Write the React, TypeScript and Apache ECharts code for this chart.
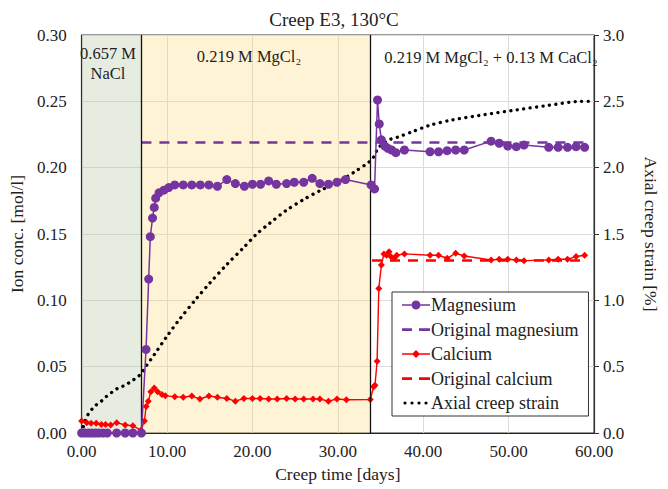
import React, { useEffect, useRef } from "react";
import * as echarts from "echarts";

const FONT = '"Liberation Serif", "Times New Roman", serif';

// Magnesium (purple circles)
const mgDays = [0, 0.4, 0.8, 1.2, 1.6, 2.0, 2.5, 3.0, 4.1, 5.1, 6.0, 7.0, 7.54, 7.85, 8.04, 8.3, 8.5, 8.67, 9.06, 9.63, 10.2, 10.9, 11.9, 12.9, 13.9, 14.9, 15.9, 17.0, 18.0, 19.06, 20.0, 20.95, 21.9, 22.8, 24.0, 24.9, 26.0, 27.0, 27.9, 28.9, 29.9, 30.9, 33.9, 34.3, 34.65, 34.85, 35.1, 35.5, 35.86, 36.3, 36.8, 37.8, 40.8, 41.8, 42.8, 43.8, 44.8, 47.95, 48.9, 49.9, 50.9, 51.8, 54.7, 55.8, 56.9, 57.9, 58.9];
const mgValues = [0, 0, 0, 0, 0, 0, 0, 0, 0, 0, 0, 0, 0.063, 0.116, 0.148, 0.162, 0.17, 0.177, 0.181, 0.183, 0.185, 0.187, 0.187, 0.187, 0.187, 0.187, 0.186, 0.191, 0.188, 0.186, 0.1875, 0.1875, 0.19, 0.1875, 0.188, 0.189, 0.189, 0.192, 0.188, 0.1875, 0.189, 0.191, 0.187, 0.184, 0.251, 0.233, 0.221, 0.2163, 0.2146, 0.2133, 0.2113, 0.2133, 0.212, 0.212, 0.2128, 0.2133, 0.2133, 0.22, 0.2184, 0.2163, 0.2158, 0.217, 0.2153, 0.2153, 0.2153, 0.2158, 0.2153];

// Calcium (red diamonds)
const caDays = [0, 0.6, 1.1, 1.7, 2.3, 2.8, 3.4, 4.1, 5.1, 6.0, 6.95, 7.35, 7.55, 7.8, 8.1, 8.5, 8.9, 9.4, 9.8, 10.9, 11.9, 12.9, 13.85, 14.9, 15.9, 17.0, 18.0, 19.0, 20.0, 20.9, 21.9, 22.9, 24.0, 25.0, 26.0, 27.1, 27.9, 28.9, 29.9, 31.0, 33.8, 34.2, 34.35, 34.6, 34.8, 35.1, 35.4, 35.7, 36.0, 36.2, 36.6, 36.9, 37.8, 40.8, 41.8, 42.8, 43.8, 44.8, 47.95, 48.9, 49.9, 50.9, 51.8, 54.7, 55.8, 56.9, 57.9, 58.9];
const caValues = [0.009, 0.0078, 0.0073, 0.0073, 0.0065, 0.0065, 0.006, 0.0078, 0.006, 0.0055, 0.002, 0.009, 0.02, 0.024, 0.031, 0.034, 0.031, 0.029, 0.028, 0.0274, 0.0269, 0.0279, 0.0256, 0.0279, 0.0269, 0.026, 0.024, 0.026, 0.026, 0.026, 0.0256, 0.0256, 0.026, 0.0256, 0.0256, 0.0256, 0.0256, 0.024, 0.0256, 0.0251, 0.0252, 0.0349, 0.036, 0.054, 0.109, 0.1266, 0.135, 0.134, 0.1367, 0.133, 0.1317, 0.134, 0.135, 0.134, 0.134, 0.1317, 0.1355, 0.1334, 0.1304, 0.131, 0.131, 0.1304, 0.1299, 0.1304, 0.131, 0.131, 0.133, 0.134];

// Original concentrations (dashed)
const origMgDays = [7.0, 59.0];
const origMgValues = [0.219, 0.219];
const origCaDays = [34.0, 59.0];
const origCaValues = [0.13, 0.13];

// Axial creep strain [%] (right axis, dotted)
const strainDays = [0, 0.3, 0.75, 1.5, 2.3, 2.8, 3.6, 4.3, 5.1, 5.8, 6.5, 7.0, 7.5, 8.5, 10, 11.5, 13.4, 15, 17, 19, 20.5, 22, 24, 26, 28, 30, 32, 33.6, 34.2, 34.7, 35.3, 36, 37, 38.7, 40.8, 43.4, 47.2, 50.9, 54.7, 58.5, 59.6];
const strainValues = [0, 0.07, 0.14, 0.2, 0.24, 0.27, 0.31, 0.34, 0.36, 0.39, 0.42, 0.45, 0.5, 0.59, 0.73, 0.86, 1.01, 1.13, 1.27, 1.4, 1.5, 1.58, 1.68, 1.76, 1.83, 1.89, 1.97, 2.04, 2.08, 2.146, 2.18, 2.21, 2.23, 2.27, 2.32, 2.36, 2.4, 2.435, 2.47, 2.5, 2.5];

// Solution phases (day boundaries)
const phaseBounds = [0, 7.0, 33.8];
const phaseLabels = ["0.657 M\nNaCl", "0.219 M MgCl\u2082", "0.219 M MgCl\u2082 + 0.13 M CaCl\u2082"];

const legendNames = ["Magnesium", "Original magnesium", "Calcium", "Original calcium", "Axial creep strain"];

// legend glyphs (28 x 14 boxes; tiny corner specks fix the bounding box)
const CORNERS = " M0,0 h0.01 v0.01 h-0.01 Z M27.99,13.99 h0.01 v0.01 h-0.01 Z";
const ICON_MG = "path://M0,6.3 h9.5 v1.4 h-9.5 Z M18.5,6.3 h9.5 v1.4 h-9.5 Z M18.5,7 A4.5,4.5 0 1,1 9.5,7 A4.5,4.5 0 1,1 18.5,7 Z" + CORNERS;
const ICON_DASH = "path://M0,5.8 h10 v2.6 h-10 Z M17,5.8 h11 v2.6 h-11 Z" + CORNERS;
const ICON_CA = "path://M0,6.3 h10.5 v1.4 h-10.5 Z M17.5,6.3 h10.5 v1.4 h-10.5 Z M14,3 L18,7 L14,11 L10,7 Z" + CORNERS;
const dot = (cx: number) => `M${cx + 1.6},7 A1.6,1.6 0 1,1 ${cx - 1.6},7 A1.6,1.6 0 1,1 ${cx + 1.6},7 Z `;
const ICON_DOT = "path://" + dot(3) + dot(10) + dot(17) + dot(24) + CORNERS;
const legendIcons = [ICON_MG, ICON_DASH, ICON_CA, ICON_DASH, ICON_DOT];

const zip = (a: number[], b: number[]) => {
  const n = Math.min(a.length, b.length);
  const out: number[][] = [];
  for (let i = 0; i < n; i++) out.push([a[i], b[i]]);
  return out;
};

const MG = "#7535a0";
const RED = "#ff0000";

export default function App() {
  const ref = useRef<HTMLDivElement>(null);
  useEffect(() => {
    if (!ref.current) return;
    const chart = echarts.init(ref.current, undefined, { renderer: "svg" });
    const textBase = { fontFamily: FONT, color: "#222" };
    chart.setOption({
      animation: false,
      backgroundColor: "#fff",
      title: {
        text: "Creep E3, 130\u00b0C",
        left: "center",
        top: 5,
        textStyle: { fontFamily: FONT, fontSize: 19, fontWeight: "normal", color: "#222" },
      },
      grid: {
        left: 76.7,
        right: 61.3,
        top: 35,
        bottom: 56,
        show: true,
        borderColor: "#333",
        borderWidth: 1,
        backgroundColor: "transparent",
      },
      legend: {
        data: legendNames.map((n, i) => ({ name: n, icon: legendIcons[i] })),
        orient: "vertical",
        left: 392,
        top: 292,
        backgroundColor: "#fff",
        borderColor: "#333",
        borderWidth: 1,
        padding: [4, 10, 4, 10],
        itemGap: 6.5,
        itemWidth: 28,
        itemHeight: 14,
        textStyle: { fontFamily: FONT, fontSize: 18, color: "#222", padding: [0, 0, 0, -4] },
      },
      xAxis: {
        type: "value",
        min: 0,
        max: 60,
        interval: 10,
        name: "Creep time [days]",
        nameLocation: "middle",
        nameGap: 28,
        nameTextStyle: { ...textBase, fontSize: 17.5 },
        axisLine: { show: true, lineStyle: { color: "#222", width: 1.2 } },
        axisTick: { show: false },
        axisLabel: { ...textBase, fontSize: 17, margin: 10, formatter: (v: number) => v.toFixed(2) },
        splitLine: { show: true, lineStyle: { color: "#dcdcdc", width: 1 } },
      },
      yAxis: [
        {
          type: "value",
          min: 0,
          max: 0.3,
          interval: 0.05,
          name: "Ion conc. [mol/l]",
          nameLocation: "middle",
          nameRotate: 90,
          nameGap: 52,
          nameTextStyle: { ...textBase, fontSize: 17.5 },
          axisLine: { show: true, lineStyle: { color: "#222", width: 1.2 } },
          axisTick: { show: false },
          axisLabel: { ...textBase, fontSize: 17, margin: 15, formatter: (v: number) => v.toFixed(2) },
          splitLine: { show: true, lineStyle: { color: "#dcdcdc", width: 1 } },
        },
        {
          type: "value",
          min: 0,
          max: 3,
          interval: 0.5,
          position: "right",
          name: "Axial creep strain [%]",
          nameLocation: "middle",
          nameRotate: -90,
          nameGap: 48,
          nameTextStyle: { ...textBase, fontSize: 17.5 },
          axisLine: { show: true, lineStyle: { color: "#333", width: 1.2 } },
          axisTick: { show: true, length: 5, lineStyle: { color: "#333" } },
          axisLabel: { ...textBase, fontSize: 17, margin: 9, formatter: (v: number) => v.toFixed(1) },
          splitLine: { show: false },
        },
      ],
      graphic: [
        {
          type: "text",
          x: 108,
          y: 43,
          style: { text: phaseLabels[0], textAlign: "center", fontFamily: FONT, fontSize: 16.5, lineHeight: 20, fill: "#222" },
          z: 10,
        },
        {
          type: "text",
          x: 249,
          y: 48,
          style: { text: phaseLabels[1], textAlign: "center", fontFamily: FONT, fontSize: 16.5, fill: "#222" },
          z: 10,
        },
        {
          type: "text",
          x: 491,
          y: 49,
          style: { text: phaseLabels[2], textAlign: "center", fontFamily: FONT, fontSize: 16.5, fill: "#222" },
          z: 10,
        },
      ],
      series: [
        {
          name: "zones",
          type: "line",
          data: [],
          z: 0,
          silent: true,
          markArea: {
            silent: true,
            data: [
              [{ xAxis: phaseBounds[0], itemStyle: { color: "rgba(175,192,155,0.3)" } }, { xAxis: phaseBounds[1] }],
              [{ xAxis: phaseBounds[1], itemStyle: { color: "rgba(255,215,120,0.3)" } }, { xAxis: phaseBounds[2] }],
            ],
          },
          markLine: {
            silent: true,
            symbol: "none",
            label: { show: false },
            lineStyle: { color: "#111", width: 1.3, type: "solid" },
            data: [{ xAxis: phaseBounds[1] }, { xAxis: phaseBounds[2] }],
          },
        },
        {
          name: "Axial creep strain",
          type: "line",
          yAxisIndex: 1,
          data: zip(strainDays, strainValues),
          smooth: 0.3,
          symbol: "none",
          z: 3,
          itemStyle: { color: "#000" },
          lineStyle: { color: "#000", width: 3.3, type: [0.1, 6.4], cap: "round" },
        },
        {
          name: "Original magnesium",
          type: "line",
          data: zip(origMgDays, origMgValues),
          symbol: "none",
          z: 3,
          itemStyle: { color: MG },
          lineStyle: { color: MG, width: 2.6, type: [10, 8] },
        },
        {
          name: "Original calcium",
          type: "line",
          data: zip(origCaDays, origCaValues),
          symbol: "none",
          z: 3,
          itemStyle: { color: RED },
          lineStyle: { color: RED, width: 2.4, type: [10, 8] },
        },
        {
          name: "Calcium",
          type: "line",
          data: zip(caDays, caValues),
          symbol: "diamond",
          symbolSize: 7,
          clip: false,
          z: 4,
          itemStyle: { color: RED },
          lineStyle: { color: RED, width: 1.4 },
        },
        {
          name: "Magnesium",
          type: "line",
          data: zip(mgDays, mgValues),
          symbol: "circle",
          symbolSize: 9,
          clip: false,
          z: 5,
          itemStyle: { color: MG },
          lineStyle: { color: MG, width: 1.5 },
        },
      ],
    });
    return () => chart.dispose();
  }, []);
  return <div ref={ref} style={{ width: 668, height: 489, position: "absolute", left: 0, top: 0 }} />;
}
